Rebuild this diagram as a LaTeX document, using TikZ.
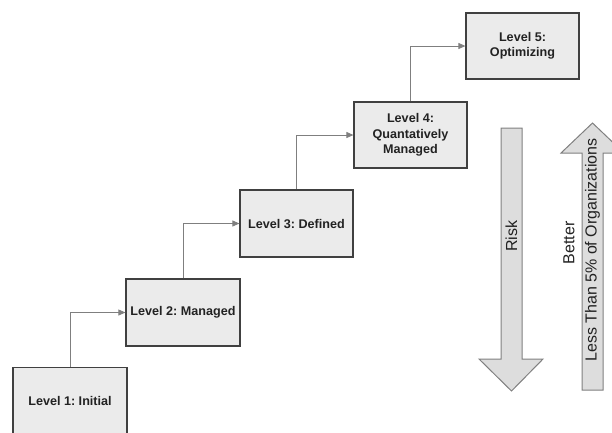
\documentclass[tikz,border=0pt]{standalone}
\usepackage{fontspec}
\setmainfont{Liberation Sans}
\usetikzlibrary{arrows.meta}
\frenchspacing
\definecolor{boxborder}{HTML}{404040}
\definecolor{boxfill}{HTML}{EBEBEB}
\definecolor{conncol}{HTML}{7F7F7F}
\definecolor{bigfill}{HTML}{DDDDDD}
\definecolor{bigborder}{HTML}{808080}
\definecolor{txt}{HTML}{222222}
\tikzset{
  lvl/.style={draw=boxborder, fill=boxfill, line width=1.2pt, minimum width=113pt, minimum height=66pt,
    inner sep=2pt, align=center, text=txt, font=\fontsize{12.6}{15.5}\selectfont\bfseries\frenchspacing},
  conn/.style={draw=conncol, line width=0.8pt, -{Triangle[length=7pt,width=6pt,fill=conncol]}},
  bigarrow/.style={draw=bigborder, fill=bigfill, line width=1pt, line join=miter},
  sidetxt/.style={rotate=90, text=txt, inner sep=0pt, font=\fontsize{16}{18}\selectfont\frenchspacing}
}
\begin{document}
\begin{tikzpicture}[x=1pt, y=-1pt]
\useasboundingbox (0,0) rectangle (612,432);
\node[lvl, minimum width=114pt, minimum height=67pt] (b1) at (70,401) {Level 1: Initial};
\node[lvl, minimum width=114pt, minimum height=67pt] (b2) at (183,312.5) {Level 2: Managed};
\node[lvl, minimum height=67pt] (b3) at (296.5,223.5) {Level 3: Defined};
\node[lvl] (b4) at (410.5,135) {Level 4:\\Quantatively\\Managed};
\node[lvl] (b5) at (522.5,46) {Level 5:\\Optimizing};
\draw[conn] (b1.north) |- (b2.west);
\draw[conn] (b2.north) |- (b3.west);
\draw[conn] (b3.north) |- (b4.west);
\draw[conn] (b4.north) |- (b5.west);
\draw[bigarrow] (501,128) -- (522,128) -- (522,359) -- (543,359) -- (511.5,391) -- (479,359) -- (501,359) -- cycle;
\draw[bigarrow] (582,390) -- (603,390) -- (603,153) -- (624,153) -- (592.5,123) -- (561,153) -- (582,153) -- cycle;
\node[sidetxt] (risk) at (511.5,236) {Risk};
\node[sidetxt] (better) at (569,243) {Better};
\node[sidetxt] (less) at (592.5,250) {Less Than 5\% of Organizations};
\end{tikzpicture}
\end{document}
